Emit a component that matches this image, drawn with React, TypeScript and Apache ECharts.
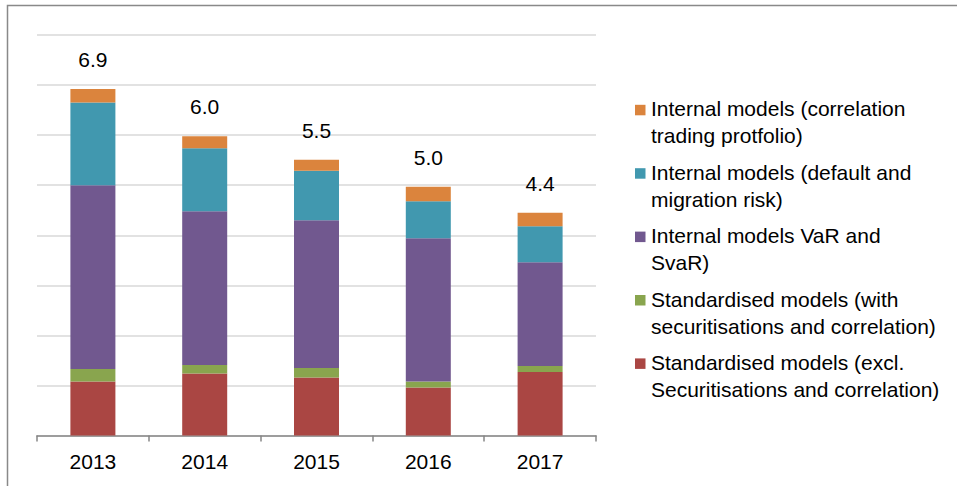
import React, { useEffect, useRef } from "react";
import * as echarts from "echarts";

const years = ["2013", "2014", "2015", "2016", "2017"];
const stdExcl = [1.08, 1.24, 1.16, 0.96, 1.27];
const stdWith = [0.25, 0.17, 0.19, 0.12, 0.12];
const varSvar = [3.67, 3.07, 2.95, 2.86, 2.07];
const defaultMigration = [1.65, 1.26, 0.99, 0.74, 0.72];
const corrTrading = [0.27, 0.24, 0.22, 0.29, 0.27];
const totals = [6.9, 6.0, 5.5, 5.0, 4.4];

const seriesNames = [
  "Standardised models (excl.\nSecuritisations and correlation)",
  "Standardised models (with\nsecuritisations and correlation)",
  "Internal models VaR and\nSvaR)",
  "Internal models (default and\nmigration risk)",
  "Internal models (correlation\ntrading protfolio)",
];
const seriesData = [stdExcl, stdWith, varSvar, defaultMigration, corrTrading];
const colors = ["#aa4643", "#89a54e", "#71588f", "#4198af", "#db843d"];

const FONT = "Liberation Sans, Arial, sans-serif";

export default function App() {
  const ref = useRef<HTMLDivElement>(null);
  useEffect(() => {
    if (!ref.current) return;
    const chart = echarts.init(ref.current, undefined, { renderer: "svg" });

    const series = seriesData.map((d, i) => ({
      name: seriesNames[i],
      type: "bar",
      stack: "total",
      barWidth: 45,
      data: d,
      itemStyle: { color: colors[i] },
      label:
        i === seriesData.length - 1
          ? {
              show: true,
              position: "top",
              distance: 19,
              fontSize: 21,
              lineHeight: 21,
              fontFamily: FONT,
              color: "#000",
              formatter: (p: any) => totals[p.dataIndex].toFixed(1),
            }
          : { show: false },
    }));

    // custom legend (top to bottom: last series first)
    const lineCenters = [108.8, 172.2, 235.6, 299, 362.4];
    const legendGraphics: any[] = [];
    const order = [4, 3, 2, 1, 0];
    order.forEach((si, k) => {
      const c = lineCenters[k];
      legendGraphics.push({
        type: "rect",
        shape: { x: 635, y: c - 4, width: 10.5, height: 10.5 },
        style: { fill: colors[si] },
        silent: true,
      });
      legendGraphics.push({
        type: "text",
        x: 651,
        y: c - 13.5,
        style: {
          text: seriesNames[si],
          fill: "#000",
          font: `21px ${FONT}`,
          lineHeight: 27,
          textVerticalAlign: "top",
          verticalAlign: "top",
          align: "left",
        },
        silent: true,
      });
    });

    chart.setOption({
      animation: false,
      backgroundColor: "#fff",
      grid: { left: 37, right: 361, top: 35, bottom: 50.5, containLabel: false },
      xAxis: {
        type: "category",
        data: years,
        axisLine: { lineStyle: { color: "#868686", width: 1.5 } },
        axisTick: { show: true, length: 6, lineStyle: { color: "#868686", width: 1.5 } },
        axisLabel: {
          color: "#000",
          fontSize: 21,
          lineHeight: 21,
          fontFamily: FONT,
          margin: 15,
        },
      },
      yAxis: {
        type: "value",
        min: 0,
        max: 8,
        interval: 1,
        axisLine: { show: false },
        axisTick: { show: false },
        axisLabel: { show: false },
        splitLine: { show: true, lineStyle: { color: "#d9d9d9", width: 1.5 } },
      },
      series,
      graphic: [
        {
          type: "polyline",
          shape: { points: [[7.5, 486], [7.5, 5.5], [957, 5.5]] },
          style: { stroke: "#898989", lineWidth: 1.5, fill: "none" },
          silent: true,
        },
        ...legendGraphics,
      ],
    });
    return () => chart.dispose();
  }, []);

  return (
    <div
      ref={ref}
      style={{ position: "fixed", left: 0, top: 0, width: 957, height: 486 }}
    />
  );
}
